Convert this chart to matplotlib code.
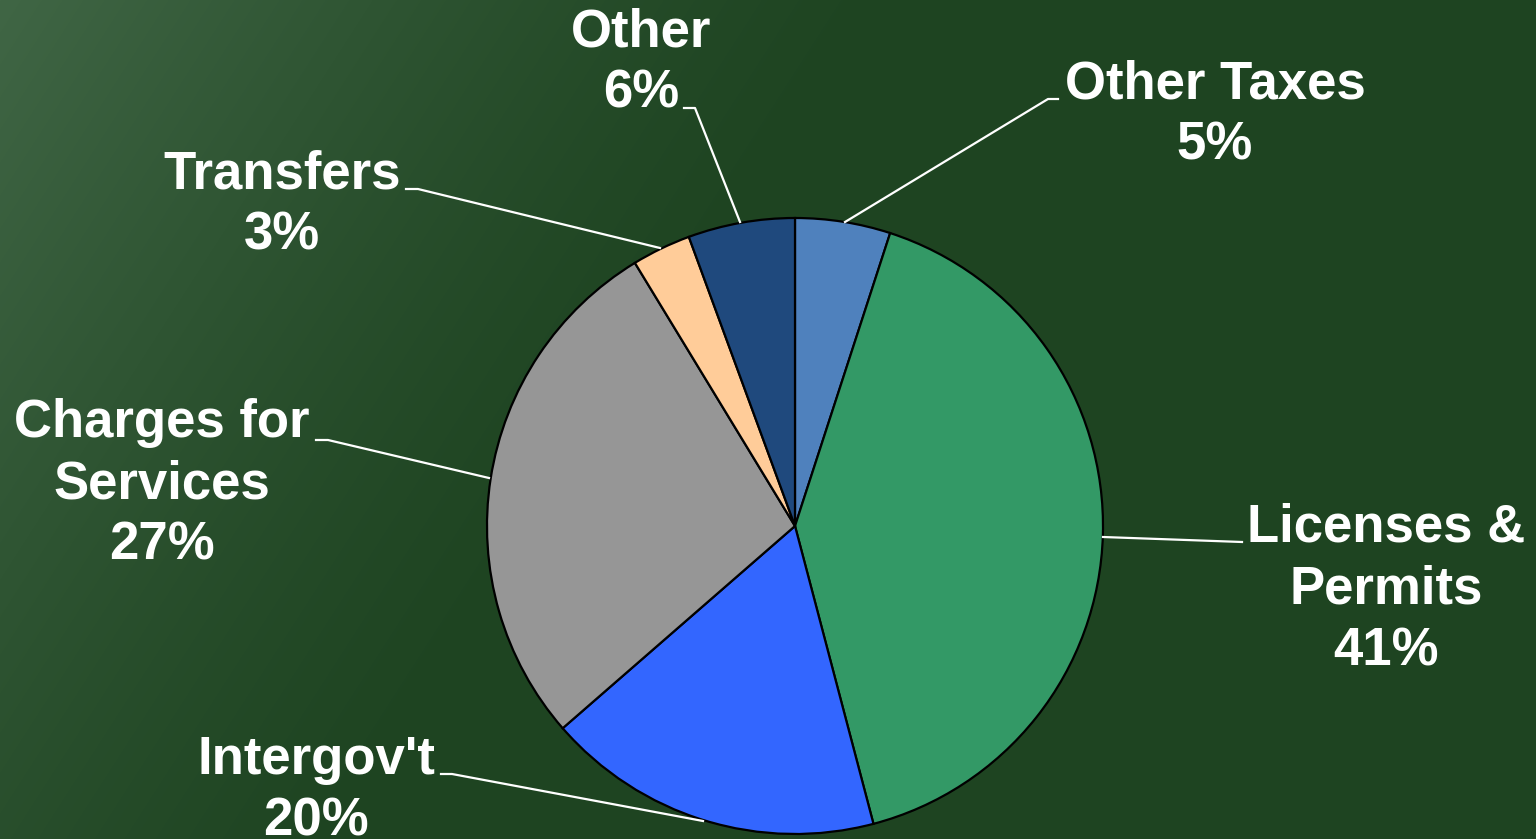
import numpy as np
import matplotlib
matplotlib.use("Agg")
import matplotlib.pyplot as plt

# slice sizes (share of the circle), clockwise from 12 o'clock
categories = ["Other Taxes", "Licenses &\nPermits", "Intergov't", "Charges for\nServices", "Transfers", "Other"]
shares = [5.0, 40.9, 17.7, 27.7, 3.1, 5.6]
pct_labels = ["5%", "41%", "20%", "27%", "3%", "6%"]
colors = ["#4f81bd", "#339966", "#3366ff", "#969696", "#ffcc99", "#1f497d"]

W, H = 1536, 839
fig = plt.figure(figsize=(W / 100, H / 100), dpi=100)
ax = fig.add_axes([0, 0, 1, 1])

# dark green backdrop, lighter towards the upper left
yy, xx = np.mgrid[0:H, 0:W]
dark = np.array([0x1e, 0x44, 0x21]) / 255
light = np.array([0x40, 0x66, 0x45]) / 255
t = np.clip(1.0 - (xx / 900.0 + yy / 1400.0), 0, 1) ** 1.3
bg = dark[None, None, :] * (1 - t[..., None]) + light[None, None, :] * t[..., None]
ax.imshow(bg, extent=(0, W, 0, H), origin="upper", zorder=0, aspect="auto")

cx, cy, r = 795, H - 526, 308
wedges, _ = ax.pie(shares, startangle=90, counterclock=False, colors=colors,
                   center=(cx, cy), radius=r,
                   wedgeprops=dict(edgecolor="black", linewidth=1.6))

# leader lines (pixel coords, y from top) and label anchors (baseline of last line)
leaders = [
    [(845, 222), (1048, 99), (1058, 99)],
    [(1103, 537), (1242, 542)],
    [(703, 821), (452, 774), (441, 774)],
    [(489, 478), (328, 440), (316, 440)],
    [(660, 248), (418, 189), (406, 189)],
    [(740, 222), (695, 108), (684, 108)],
]
label_pos = [(1215, 160), (1386, 665), (316, 836), (162, 560), (282, 250), (641, 108)]

for pts in leaders:
    xs = [p[0] for p in pts]
    ys = [H - p[1] for p in pts]
    ax.plot(xs, ys, color="white", lw=1.6, zorder=3)

for name, pct, (lx, ly) in zip(categories, pct_labels, label_pos):
    ax.text(lx, H - ly, name + "\n" + pct, ha="center", va="baseline",
            color="white", fontsize=38, fontweight="bold",
            family="Liberation Sans", linespacing=1.30, zorder=4)

ax.set_xlim(0, W)
ax.set_ylim(0, H)
ax.set_aspect("auto")
ax.axis("off")

fig.savefig("out.png", dpi=100)
